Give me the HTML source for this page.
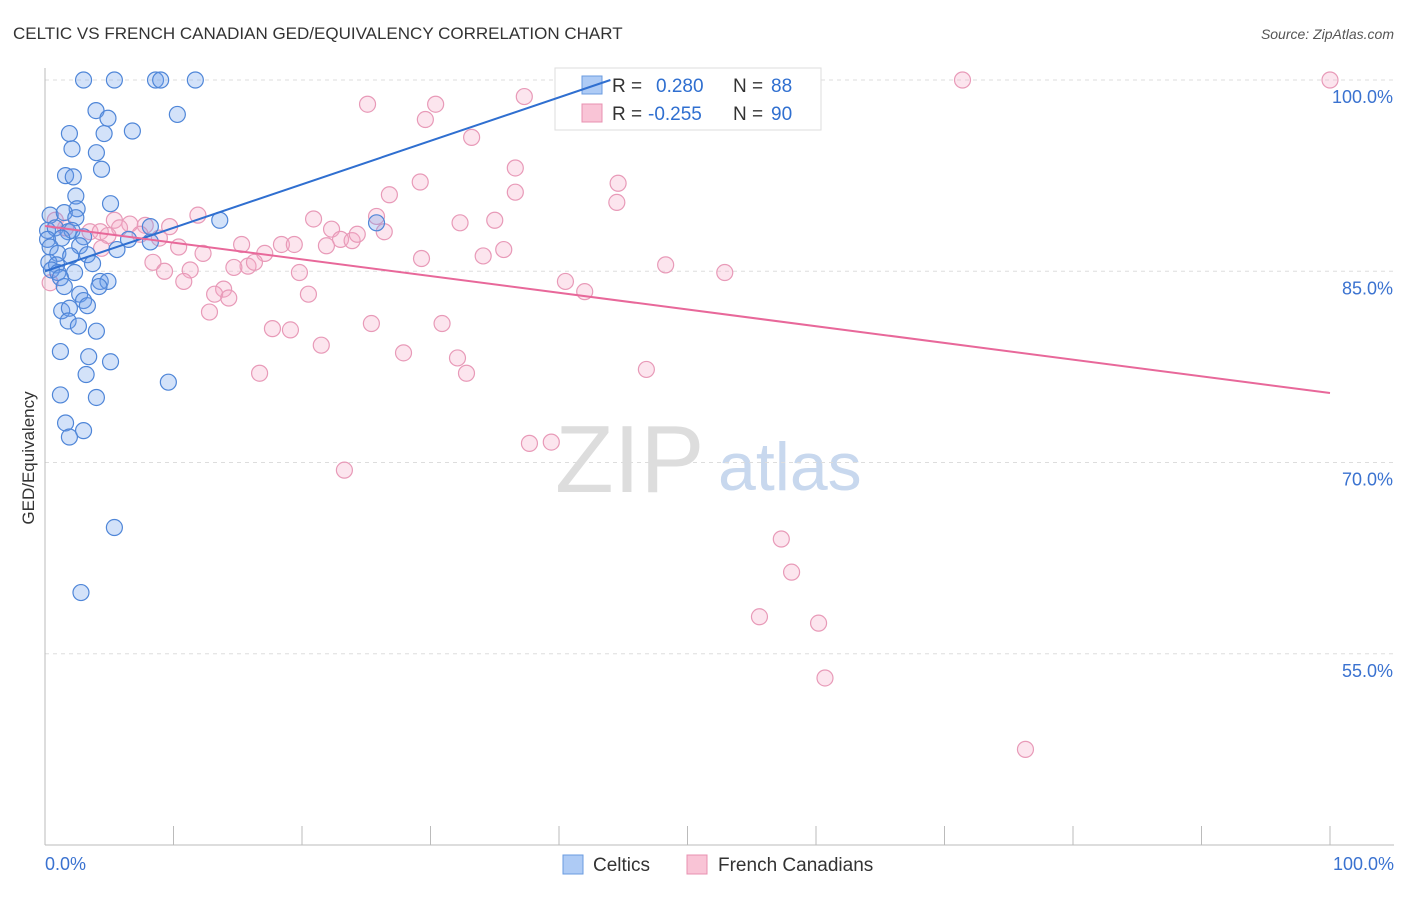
<!DOCTYPE html>
<html><head><meta charset="utf-8">
<style>
body{margin:0;background:#fff;font-family:"Liberation Sans",sans-serif;}
svg text{font-family:"Liberation Sans",sans-serif;}
</style></head>
<body>
<svg id="chart" width="1406" height="892" xmlns="http://www.w3.org/2000/svg">
<text x="13" y="39" font-size="17" fill="#333">CELTIC VS FRENCH CANADIAN GED/EQUIVALENCY CORRELATION CHART</text>
<text x="1394" y="39" font-size="14" fill="#555" text-anchor="end" font-style="italic">Source: ZipAtlas.com</text>
<text x="555" y="492" font-size="96" fill="#ddd" font-family="Liberation Serif">ZIP</text>
<text x="718" y="490" font-size="68" fill="#c8d8ee">atlas</text>
<text transform="translate(34,458) rotate(-90)" font-size="17" fill="#333" text-anchor="middle">GED/Equivalency</text>
<g id="grid"></g><g id="axes"></g><g id="marks"></g>
<g>
<rect x="555" y="68" width="266" height="62" fill="#fff" stroke="#ddd"/>
<rect x="582" y="76" width="20" height="18" fill="#aecbf5" stroke="#6a9be0"/>
<text x="612" y="92" font-size="19" fill="#333">R =</text>
<text x="656" y="92" font-size="19" fill="#2f6fd0">0.280</text>
<text x="733" y="92" font-size="19" fill="#333">N =</text>
<text x="771" y="92" font-size="19" fill="#2f6fd0">88</text>
<rect x="582" y="104" width="20" height="18" fill="#f9c4d6" stroke="#e890b0"/>
<text x="612" y="120" font-size="19" fill="#333">R =</text>
<text x="648" y="120" font-size="19" fill="#2f6fd0">-0.255</text>
<text x="733" y="120" font-size="19" fill="#333">N =</text>
<text x="771" y="120" font-size="19" fill="#2f6fd0">90</text>
</g>
<g id="lines"></g>
<g>
<rect x="563" y="855" width="20" height="19" fill="#aecbf5" stroke="#6a9be0"/>
<text x="593" y="871" font-size="19" fill="#333">Celtics</text>
<rect x="687" y="855" width="20" height="19" fill="#f9c4d6" stroke="#e890b0"/>
<text x="718" y="871" font-size="19" fill="#333">French Canadians</text>
</g>
</svg>
<script>
const yTicks=[100,85,70,55];
const xTickLabels=["0.0%","100.0%"];
const celticX=[3.0,5.4,8.6,9.0,11.7,3.97,4.9,10.3,1.9,4.6,6.8,2.1,4.0,4.4,1.6,2.2,2.4,5.1,2.5,0.4,1.5,2.4,13.6,25.8,8.2,0.2,0.8,1.8,2.1,0.2,1.3,3.0,6.5,8.2,0.4,2.7,5.6,1.0,2.0,3.3,0.3,0.9,3.7,0.5,1.0,2.3,1.2,1.5,4.3,4.9,4.2,2.7,3.0,3.3,1.3,1.9,1.8,2.6,4.0,1.2,3.4,5.1,3.2,9.6,1.2,4.0,1.6,3.0,1.9,5.4,2.8];
const celticY=[100,100,100,100,100,97.6,97.0,97.3,95.8,95.8,96.0,94.6,94.3,93.0,92.5,92.4,90.9,90.3,89.9,89.4,89.6,89.2,89.0,88.8,88.5,88.2,88.4,88.1,88.2,87.5,87.6,87.7,87.5,87.3,86.9,87.0,86.7,86.4,86.2,86.3,85.7,85.5,85.6,85.1,84.9,84.9,84.5,83.8,84.2,84.2,83.8,83.2,82.7,82.3,81.9,82.1,81.1,80.7,80.3,78.7,78.3,77.9,76.9,76.3,75.3,75.1,73.1,72.5,72.0,64.9,59.8];
const frenchX=[100,71.4,47.9,50,25.1,30.4,37.3,29.6,33.2,36.6,29.2,44.6,26.8,36.6,44.5,11.9,20.9,25.8,32.3,35.0,22.3,9.7,5.4,6.6,7.8,5.8,0.8,1.6,3.5,4.3,4.9,7.4,8.9,23.0,23.9,24.3,26.4,15.3,18.4,19.4,21.9,10.4,17.1,12.3,35.7,34.1,4.4,29.3,8.4,15.8,16.3,14.7,11.3,9.3,19.8,48.3,52.9,0.4,10.8,40.5,42.0,13.9,13.2,14.3,20.5,12.8,25.4,30.9,17.7,19.1,21.5,27.9,32.1,46.8,16.7,32.8,37.7,39.4,23.3,57.3,58.1,55.6,60.2,60.7,76.3];
const frenchY=[100,100,100,100,98.1,98.1,98.7,96.9,95.5,93.1,92.0,91.9,91.0,91.2,90.4,89.4,89.1,89.3,88.8,89.0,88.3,88.5,89.0,88.7,88.6,88.4,89.0,88.4,88.1,88.1,87.8,87.9,87.6,87.5,87.4,87.9,88.1,87.1,87.1,87.1,87.0,86.9,86.4,86.4,86.7,86.2,86.8,86.0,85.7,85.4,85.7,85.3,85.1,85.0,84.9,85.5,84.9,84.1,84.2,84.2,83.4,83.6,83.2,82.9,83.2,81.8,80.9,80.9,80.5,80.4,79.2,78.6,78.2,77.3,77.0,77.0,71.5,71.6,69.4,64.0,61.4,57.9,57.4,53.1,47.5];
const celticTrend=[0,85.0,44,100];
const frenchTrend=[0,88.55,100,75.45];
const NS="http://www.w3.org/2000/svg";
const X=v=>45+v*12.85, Y=v=>80+(100-v)*12.75;
function mk(tag,attrs,parent){const e=document.createElementNS(NS,tag);for(const k in attrs)e.setAttribute(k,attrs[k]);document.getElementById(parent).appendChild(e);return e;}
yTicks.forEach(t=>{
 const g=mk('line',{x1:45,x2:1394,y1:Y(t),y2:Y(t),stroke:'#ddd','stroke-dasharray':'4,4'},'grid');
 
 
 const l=mk('text',{x:1393,y:Y(t)+23,'font-size':18,fill:'#3a72d0','text-anchor':'end'},'axes');
 l.textContent=t.toFixed(1)+'%';
 
 
});
const ax=mk('line',{x1:45,x2:1394,y1:845,y2:845,stroke:'#bbb'},'axes');


const ay=mk('line',{x1:45,x2:45,y1:68,y2:845,stroke:'#bbb'},'axes');


for(let i=0;i<=10;i++){const t=mk('line',{x1:X(i*10),x2:X(i*10),y1:826,y2:845,stroke:'#bbb'},'axes');
 
 }
[[0,'start',45],[100,'end',1394]].forEach((d,i)=>{const t=mk('text',{x:d[2],y:870,'font-size':18,fill:'#3a72d0','text-anchor':d[1]},'axes');t.textContent=xTickLabels[i];
 
 });
function pts(xs,ys,fill,stroke,name){xs.forEach((x,i)=>{const c=mk('circle',{cx:X(x),cy:Y(ys[i]),r:8,fill:fill,stroke:stroke,'stroke-width':1.2},'marks');
 
 });}
pts(frenchX,frenchY,'rgba(245,170,198,0.3)','#e89ab8','french-canadian-point');
pts(celticX,celticY,'rgba(110,160,235,0.3)','#4f86d8','celtic-point');
const l1=mk('line',{x1:X(celticTrend[0]),y1:Y(celticTrend[1]),x2:X(celticTrend[2]),y2:Y(celticTrend[3]),stroke:'#2f6fd0','stroke-width':2},'lines');


const l2=mk('line',{x1:X(frenchTrend[0]),y1:Y(frenchTrend[1]),x2:X(frenchTrend[2]),y2:Y(frenchTrend[3]),stroke:'#e8689a','stroke-width':2},'lines');


</script>
</body></html>
